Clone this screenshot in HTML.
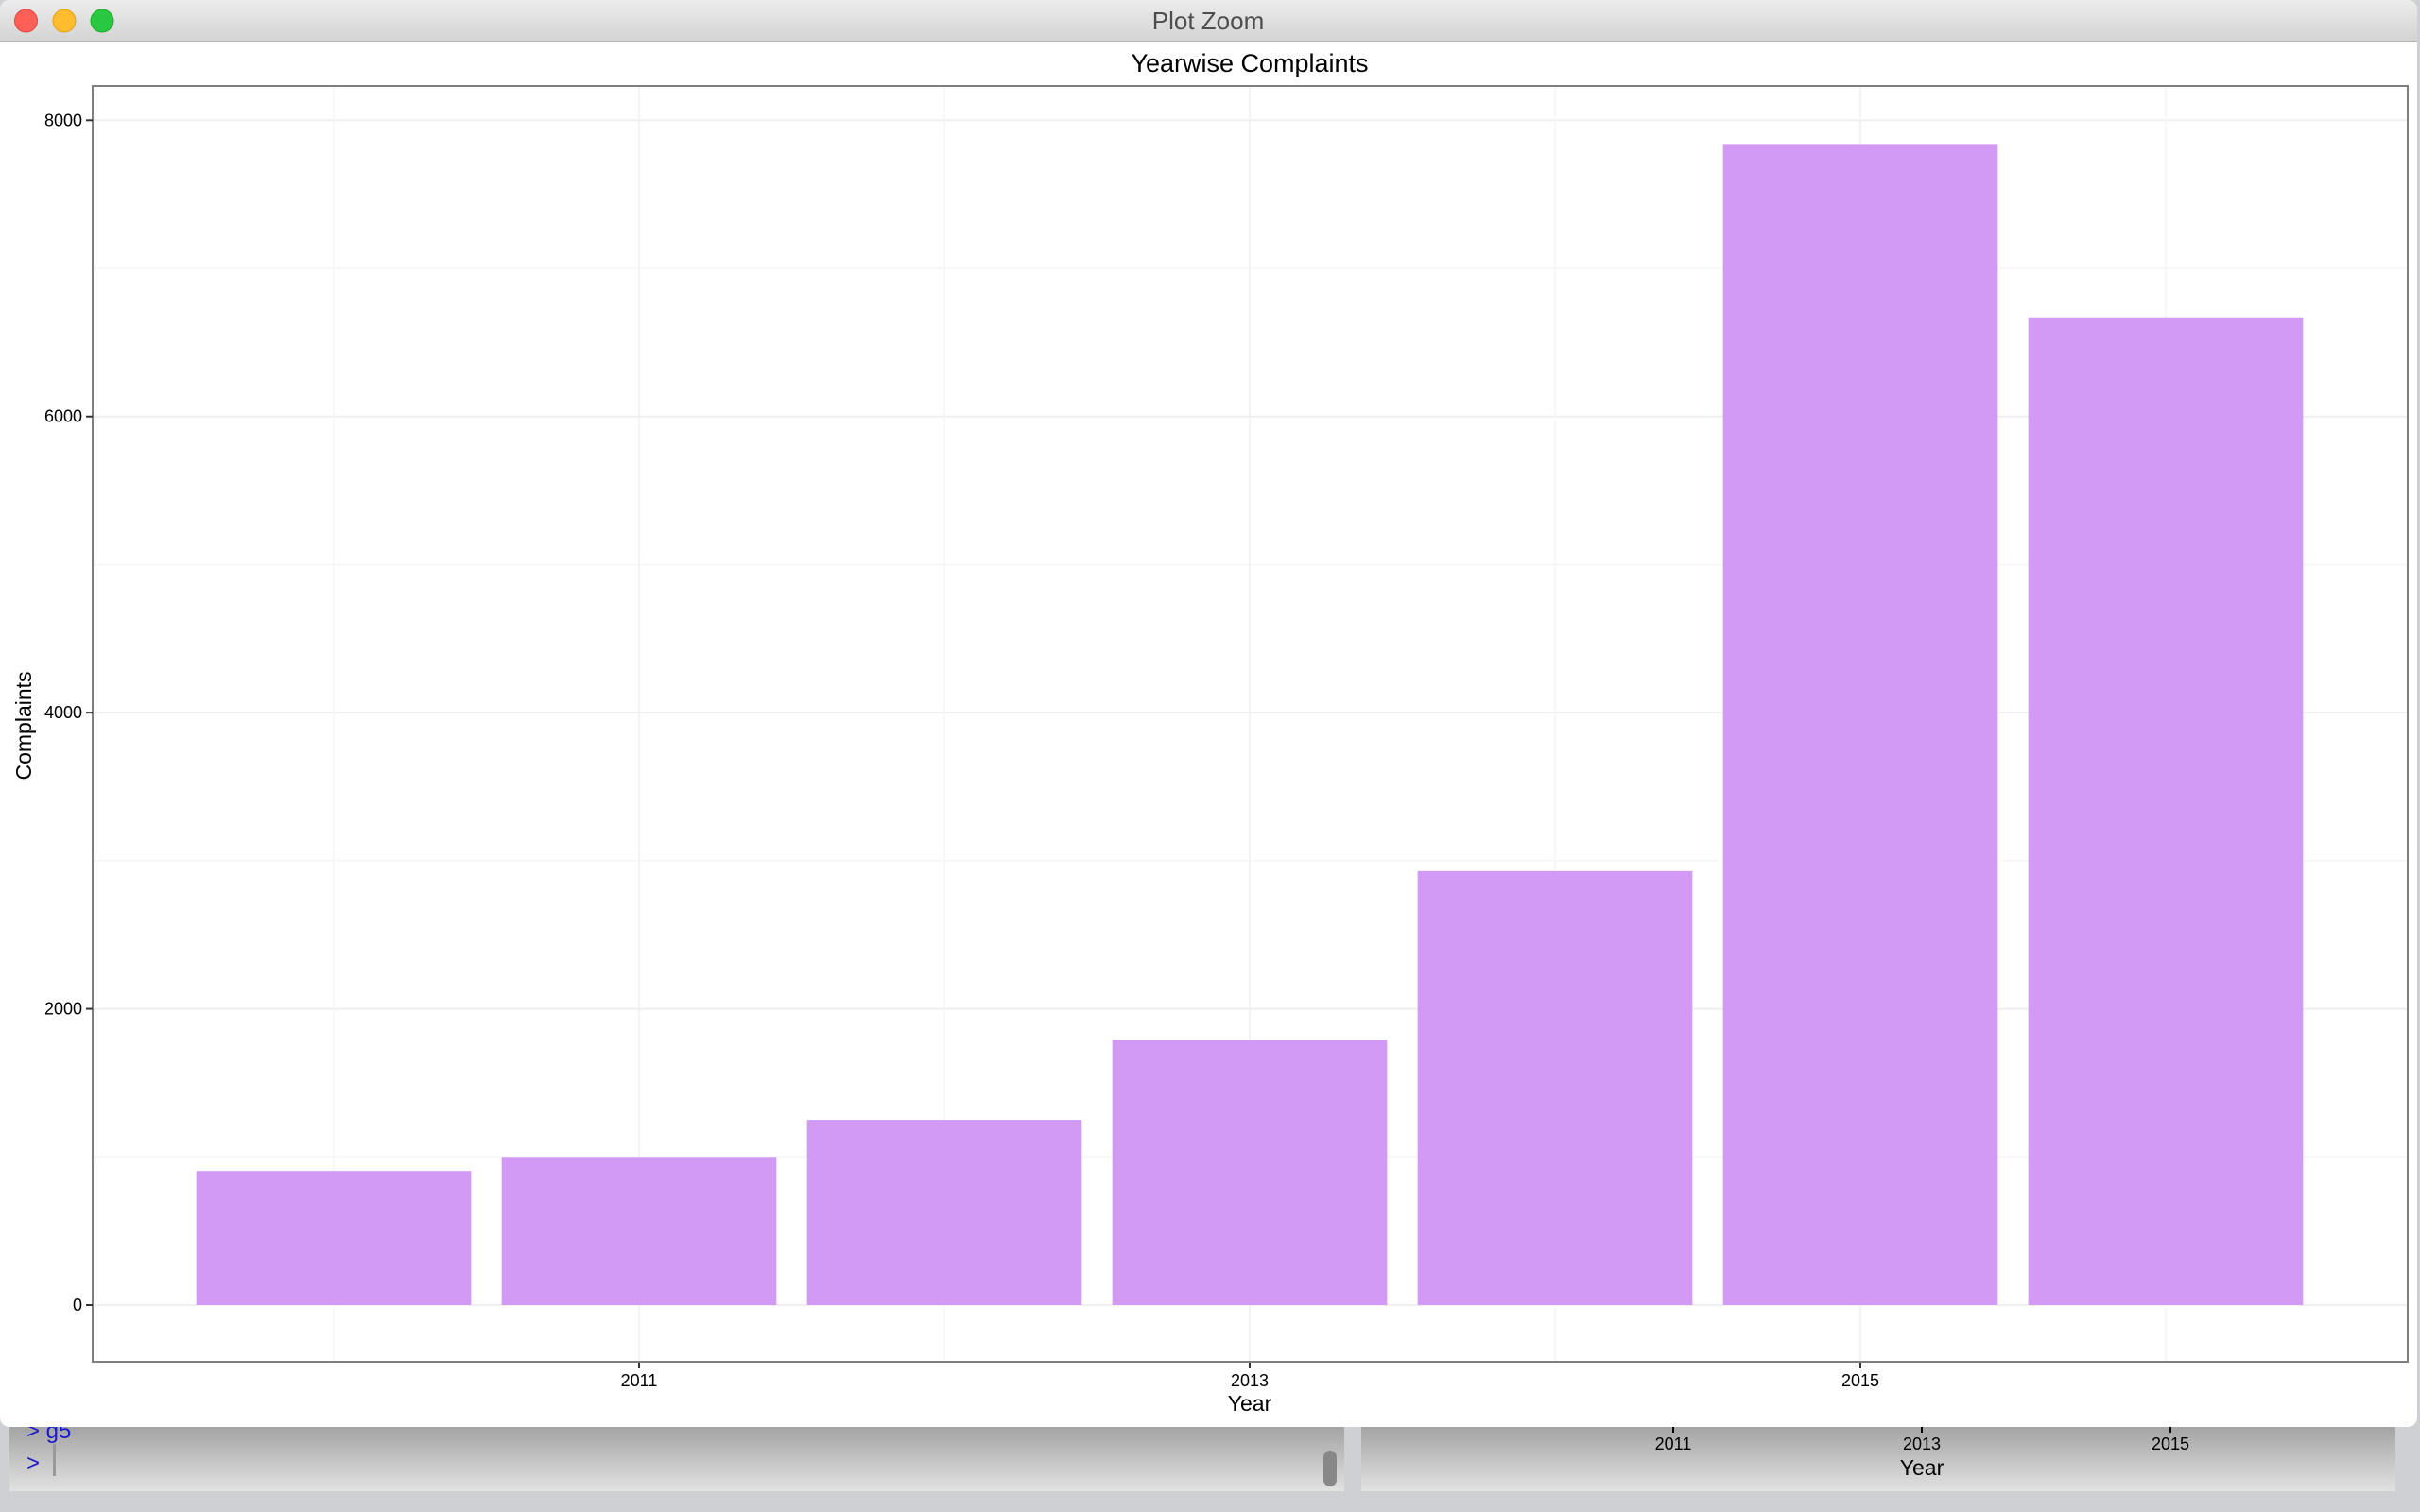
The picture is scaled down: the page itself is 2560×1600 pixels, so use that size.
<!DOCTYPE html>
<html><head><meta charset="utf-8">
<style>
html,body{margin:0;padding:0;width:2560px;height:1600px;overflow:hidden;background:#cfd0d3;font-family:"Liberation Sans",Arial,sans-serif;}
svg{display:block}
</style></head>
<body>
<svg id="chart" width="2560" height="1600" viewBox="0 0 2560 1600" xmlns="http://www.w3.org/2000/svg">
<defs>
<linearGradient id="tb" x1="0" y1="0" x2="0" y2="1"><stop offset="0" stop-color="#ececec"/><stop offset="1" stop-color="#d4d4d4"/></linearGradient>
<linearGradient id="pane" x1="0" y1="0" x2="0" y2="1"><stop offset="0" stop-color="#888888"/><stop offset="1" stop-color="#e2e2e2"/></linearGradient>
</defs>
<rect x="0" y="1480" width="2560" height="120" fill="#cfd0d3"/>
<rect x="10" y="1480" width="1412" height="98" fill="url(#pane)"/>
<rect x="1440" y="1480" width="1094" height="98" fill="url(#pane)"/>
<text x="28" y="1522" font-size="24" fill="#1a1acc">&gt; g5</text>
<text x="28" y="1556" font-size="24" fill="#1a1acc">&gt;</text>
<rect x="56" y="1528" width="3" height="34" fill="#999"/>
<rect x="1400" y="1535" width="14" height="38" rx="7" fill="#888"/>
<g font-size="18" fill="#000" text-anchor="middle">
<line x1="1770" y1="1510" x2="1770" y2="1516" stroke="#000" stroke-width="2"/>
<line x1="2033" y1="1510" x2="2033" y2="1516" stroke="#000" stroke-width="2"/>
<line x1="2296" y1="1510" x2="2296" y2="1516" stroke="#000" stroke-width="2"/>
<text x="1770" y="1534">2011</text><text x="2033" y="1534">2013</text><text x="2296" y="1534">2015</text>
<text x="2033" y="1561" font-size="23">Year</text>
</g>
<rect x="0" y="0" width="2557" height="1510" rx="10" fill="#ffffff"/>
<path d="M0 10 A10 10 0 0 1 10 0 H2547 A10 10 0 0 1 2557 10 V43 H0 Z" fill="url(#tb)"/>
<line x1="0" y1="43.5" x2="2557" y2="43.5" stroke="#b5b5b5" stroke-width="1"/>
<circle cx="27.5" cy="22" r="12" fill="#fe5f57" stroke="#e2463f" stroke-width="1"/>
<circle cx="68" cy="22" r="12" fill="#febc2e" stroke="#e1a116" stroke-width="1"/>
<circle cx="108" cy="22" r="12" fill="#28c840" stroke="#1dac2b" stroke-width="1"/>
<text x="1278" y="31" font-size="26" fill="#4d4d4d" text-anchor="middle">Plot Zoom</text>

<text x="1322" y="76" font-size="27" fill="#000" text-anchor="middle">Yearwise Complaints</text>
<rect x="98" y="91" width="2449" height="1350" fill="#fff" stroke="#7f7f7f" stroke-width="2"/>
<g id="grid"></g>
<g id="bars"></g>
<g id="axes"></g>
<text x="1322" y="1493" font-size="23" fill="#000" text-anchor="middle">Year</text>
<text transform="translate(33,768) rotate(-90)" font-size="23" fill="#000" text-anchor="middle">Complaints</text>
</svg>
<script>
const years = [2010, 2011, 2012, 2013, 2014, 2015, 2016];
const complaints = [905, 1000, 1250, 1790, 2930, 7840, 6670];
const yTicks = [0, 2000, 4000, 6000, 8000];
const xTickYears = [2011, 2013, 2015];

const NS = "http://www.w3.org/2000/svg";
const x0 = 676, yearW = 323;
function xScale(yr){ return x0 + (yr - 2011) * yearW; }
const yZero = 1381, yPer = (1381 - 127.3) / 8000;
function yScale(v){ return yZero - v * yPer; }
function mk(tag, attrs, parent){ const e = document.createElementNS(NS, tag); for (const k in attrs) e.setAttribute(k, attrs[k]); parent.appendChild(e); return e; }

const grid = document.getElementById('grid');
const bars = document.getElementById('bars');
const axes = document.getElementById('axes');
for (let i = 0; i < yTicks.length - 1; i++) {
  const g = mk('line', {x1: 99, x2: 2546, y1: yScale((yTicks[i] + yTicks[i+1]) / 2), y2: yScale((yTicks[i] + yTicks[i+1]) / 2), stroke: '#f6f6f6', 'stroke-width': 1.5}, grid);
  
  
}
yTicks.forEach(t => {
  const g = mk('line', {x1: 99, x2: 2546, y1: yScale(t), y2: yScale(t), stroke: '#efefef', 'stroke-width': 2}, grid);
  
  
  const tk = mk('line', {x1: 91, x2: 98, y1: yScale(t), y2: yScale(t), stroke: '#333', 'stroke-width': 2}, axes);
  
  
  const tx = mk('text', {x: 87, y: yScale(t) + 6, 'font-size': 18, 'text-anchor': 'end', fill: '#000'}, axes);
  tx.textContent = t;
  
  
});
years.forEach(yr => {
  const g = mk('line', {x1: xScale(yr), x2: xScale(yr), y1: 92, y2: 1440, stroke: xTickYears.includes(yr) ? '#efefef' : '#f6f6f6', 'stroke-width': 1.5}, grid);
  
  
});
xTickYears.forEach(yr => {
  const tk = mk('line', {x1: xScale(yr), x2: xScale(yr), y1: 1442, y2: 1448, stroke: '#333', 'stroke-width': 2}, axes);
  
  
  const tx = mk('text', {x: xScale(yr), y: 1467, 'font-size': 18, 'text-anchor': 'middle', fill: '#000'}, axes);
  tx.textContent = yr;
  
  
});
const bw = yearW * 0.9;
years.forEach((yr, i) => {
  const b = mk('rect', {x: xScale(yr) - bw / 2, y: yScale(complaints[i]), width: bw, height: yZero - yScale(complaints[i]), fill: '#d29af4'}, bars);
  
  
});
</script>
</body></html>
